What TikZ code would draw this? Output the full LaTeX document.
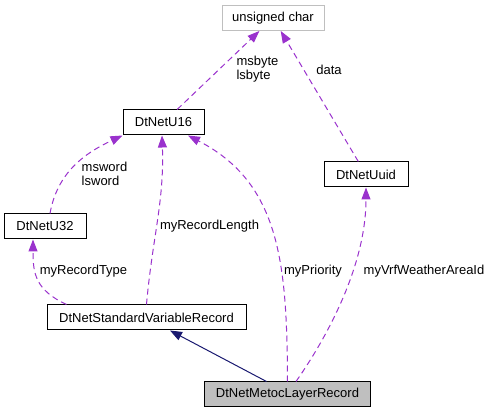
\documentclass[tikz,border=0pt]{standalone}
\usepackage{fontspec}
\setmainfont{Liberation Sans}
\usetikzlibrary{arrows.meta, positioning, calc}
\definecolor{usecol}{HTML}{9A32CD}
\definecolor{inhcol}{HTML}{191970}
\definecolor{boxgray}{HTML}{BFBFBF}

\begin{document}
\begin{tikzpicture} [x = 1pt, y = 1pt, line width = 1pt, >= {Triangle[length = 12pt, width = 9pt]},
  cls/.style = {draw, fill = white, minimum height = 25pt, inner xsep = 6pt, inner ysep = 0pt, font = \fontsize{13}{14}\selectfont},
  use/.style = {->, usecol, dash pattern = on 6pt off 4pt},
  inh/.style = {->, inhcol},
  lbl/.style = {font = \fontsize{13}{14}\selectfont, align = left, inner sep = 0pt}]

\useasboundingbox (0,0) rectangle (491,413);

\node [cls, draw = boxgray, minimum width = 102pt] (uchar) at (273,395) {unsigned char};
\node [cls, minimum width = 81pt] (u16) at (163.5,290.5) {DtNetU16};
\node [cls, minimum width = 84pt] (uuid) at (366,238.5) {DtNetUuid};
\node [cls, minimum width = 82pt] (u32) at (45,186.5) {DtNetU32};
\node [cls, minimum width = 199pt] (svr) at (146.5,95.5) {DtNetStandardVariableRecord};
\node [cls, fill = boxgray, minimum width = 166pt] (metoc) at (287.5,18.5) {DtNetMetocLayerRecord};

\draw [use] (u16) -- (uchar);
\draw [use] (uuid) -- (uchar);
\draw [use] ([xshift = 5pt]u32.north) to [out = 80, in = 205] (u16.south west);
\draw [use] (svr.north) to [out = 85, in = -88] ([xshift = -1.5pt]u16.south);
\draw [use] ([xshift = 20pt]svr.north west) to [out = 155, in = -90, looseness = 1.2] ([xshift = -12pt]u32.south);
\draw [inh] ([xshift = -21pt]metoc.north) -- ([xshift = 23.5pt]svr.south);
\draw [use] (metoc.north) .. controls (287,150) and (280,230) .. ([xshift = 24.5pt]u16.south);
\draw [use] ([xshift = 8.5pt]metoc.north) .. controls (330,80) and (366,150) .. (uuid.south);

\node [lbl] (lbyte) at (257.5,344) {msbyte\\lsbyte};
\node [lbl] (ldata) at (329,343) {data};
\node [lbl] (lword) at (104.5,239) {msword\\lsword};
\node [lbl] (llength) at (209.5,187) {myRecordLength};
\node [lbl] (ltype) at (83.5,142) {myRecordType};
\node [lbl] (lprio) at (313,142) {myPriority};
\node [lbl] (larea) at (424,142) {myVrfWeatherAreaId};

\end{tikzpicture}
\end{document}
